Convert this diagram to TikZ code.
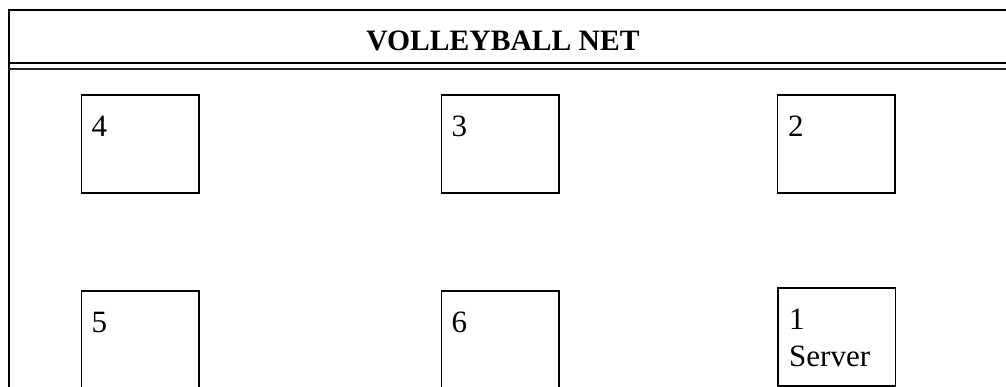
\documentclass[tikz,border=0pt]{standalone}
\usepackage{fontspec}
\setmainfont{Liberation Serif}
\begin{document}
\begin{tikzpicture}[x=1pt,y=-1pt,
  frame/.style={line width=1.8pt,black},
  posbox/.style={draw,line width=1.7pt,minimum width=117.6pt,minimum height=98pt,inner sep=0pt,anchor=north west},
  tallbox/.style={posbox,minimum height=110pt},
  lbl/.style={anchor=base west,inner sep=0pt,font=\fontsize{31}{37}\selectfont},
  ttl/.style={anchor=base,inner sep=0pt,font=\fontsize{29.6}{36}\selectfont\bfseries}]
\useasboundingbox (0,0) rectangle (1006,387);
% outer frame
\coordinate (tl) at (9,10);
\coordinate (tr) at (1010,10);
\coordinate (bl) at (9,390);
\draw[frame] (bl) -- (tl) -- (tr);
% double line
\coordinate (n1l) at (9,62.7);
\coordinate (n1r) at (1010,62.7);
\coordinate (n2l) at (9,69.2);
\coordinate (n2r) at (1010,69.2);
\draw[line width=1.8pt] (n1l) -- (n1r);
\draw[line width=1.4pt,black!85] (n2l) -- (n2r);
% title
\node[ttl] (title) at (503,50.7) {VOLLEYBALL NET};
% boxes
\node[posbox] (p4) at (80.7,94.3) {};
\node[posbox] (p3) at (440.7,94.3) {};
\node[posbox] (p2) at (776.7,94.3) {};
\node[tallbox] (p5) at (80.7,290) {};
\node[tallbox] (p6) at (440.7,290) {};
\node[posbox] (p1) at (776.9,287.3) {};
% labels
\node[lbl] (l4) at (91.5,137) {4};
\node[lbl] (l3) at (451.5,137) {3};
\node[lbl] (l2) at (788,137) {2};
\node[lbl] (l5) at (91.5,332) {5};
\node[lbl] (l6) at (451.5,332) {6};
\node[lbl] (l1) at (789,329) {1};
\node[lbl] (ls) at (789,366) {Server};
\end{tikzpicture}
\end{document}
